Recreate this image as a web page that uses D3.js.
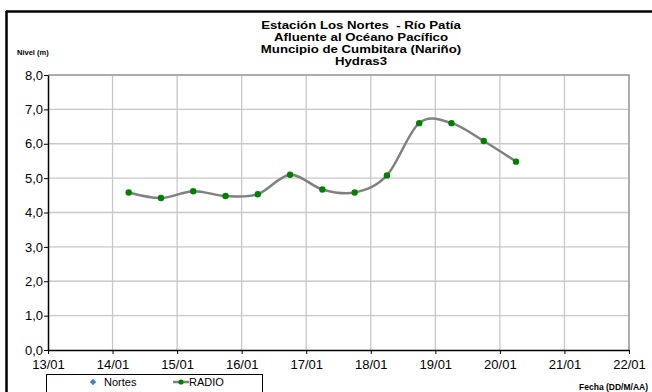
<!DOCTYPE html>
<html>
<head>
<meta charset="utf-8">
<script src="https://cdn.jsdelivr.net/npm/d3@7"></script>
<style>
  html, body { margin: 0; padding: 0; background: #fff; }
  svg { display: block; font-family: "Liberation Sans", Arial, sans-serif; }
</style>
</head>
<body>
<svg id="chart" width="652" height="392"></svg>
<script>
// Level readings (m), every 12 h at 06:00 and 18:00
const times = [
  "2000-01-14T06:00", "2000-01-14T18:00", "2000-01-15T06:00", "2000-01-15T18:00",
  "2000-01-16T06:00", "2000-01-16T18:00", "2000-01-17T06:00", "2000-01-17T18:00",
  "2000-01-18T06:00", "2000-01-18T18:00", "2000-01-19T06:00", "2000-01-19T18:00",
  "2000-01-20T06:00"
];
const radio = [4.58, 4.42, 4.62, 4.48, 4.53, 5.10, 4.67, 4.58, 5.08, 6.60, 6.60, 6.08, 5.48];
const yTicks = [0, 1, 2, 3, 4, 5, 6, 7, 8];
const xTickDays = [13, 14, 15, 16, 17, 18, 19, 20, 21, 22];
const titleLines = [
  "Estación Los Nortes  - Río Patía",
  "Afluente al Océano Pacífico",
  "Muncipio de Cumbitara (Nariño)",
  "Hydras3"
];
const seriesNames = ["Nortes", "RADIO"];

const parse = d3.timeParse("%Y-%m-%dT%H:%M");
const data = times.map((t, i) => ({ t: parse(t), v: radio[i] }));
const tickDates = xTickDays.map(d => new Date(2000, 0, d));

const svg = d3.select("#chart");
const plotL = 48, plotR = 629, plotT = 75, plotB = 350;

const x = d3.scaleTime().domain([tickDates[0], tickDates[tickDates.length - 1]]).range([plotL, plotR]);
const y = d3.scaleLinear().domain([0, 8]).range([plotB, plotT]);

// Frame lines of the whole chart (top and left only)
svg.append("line").attr("x1", 6).attr("x2", 652).attr("y1", 11.5).attr("y2", 11.5)
  .attr("stroke", "#000").attr("stroke-width", 2.5);
svg.append("line").attr("x1", 6.5).attr("x2", 6.5).attr("y1", 11).attr("y2", 392)
  .attr("stroke", "#000").attr("stroke-width", 2.5);

// Gridlines
svg.append("g").selectAll("line").data(yTicks.slice(1)).join("line")
  .attr("x1", plotL).attr("x2", plotR)
  .attr("y1", d => y(d)).attr("y2", d => y(d))
  .attr("stroke", "#c8c8c8").attr("stroke-width", 1.3);
svg.append("g").selectAll("line").data(tickDates.slice(1)).join("line")
  .attr("x1", d => x(d)).attr("x2", d => x(d))
  .attr("y1", plotT).attr("y2", plotB)
  .attr("stroke", "#c8c8c8").attr("stroke-width", 1.3);
// Plot area right/top border
svg.append("path")
  .attr("d", `M${plotL},${plotT}H${plotR}V${plotB}`)
  .attr("fill", "none").attr("stroke", "#a0a0a0").attr("stroke-width", 1.5);

// Axes
const xAxis = d3.axisBottom(x).tickValues(tickDates).tickFormat(d3.timeFormat("%d/%m"))
  .tickSize(4).tickSizeOuter(0);
const gx = svg.append("g").attr("transform", `translate(0,${plotB})`).call(xAxis);
gx.select(".domain").attr("stroke", "#000").attr("stroke-width", 1.5);
gx.selectAll(".tick line").attr("stroke", "#000");
gx.selectAll(".tick text").attr("font-size", 13).attr("fill", "#000").attr("dy", "0.9em")
  .attr("font-family", "Liberation Sans, Arial, sans-serif");

const fmt = d => d3.format(".1f")(d).replace(".", ",");
const yAxis = d3.axisLeft(y).tickValues(yTicks).tickFormat(fmt).tickSize(4).tickSizeOuter(0);
const gy = svg.append("g").attr("transform", `translate(${plotL},0)`).call(yAxis);
gy.select(".domain").attr("stroke", "#000").attr("stroke-width", 1.5);
gy.selectAll(".tick line").attr("stroke", "#000");
gy.selectAll(".tick text").attr("font-size", 13).attr("fill", "#000").attr("x", -5)
  .attr("font-family", "Liberation Sans, Arial, sans-serif");

// Smoothed series line and markers
const line = d3.line().x(d => x(d.t)).y(d => y(d.v)).curve(d3.curveCardinal.tension(0));
svg.append("path").datum(data).attr("d", line)
  .attr("fill", "none").attr("stroke", "#808080").attr("stroke-width", 2.5);
svg.append("g").selectAll("circle").data(data).join("circle")
  .attr("cx", d => x(d.t)).attr("cy", d => y(d.v)).attr("r", 3.2)
  .attr("fill", "#008000");

// Title (slightly widened lettering)
svg.append("g").selectAll("text").data(titleLines).join("text")
  .attr("transform", (d, i) => `translate(361,${29 + i * 12}) scale(1.15,1)`)
  .attr("text-anchor", "middle").attr("font-size", 11.5).attr("font-weight", "bold")
  .style("white-space", "pre")
  .text(d => d);

// Axis titles
svg.append("text").attr("x", 17).attr("y", 55).attr("font-size", 7.5).attr("font-weight", "bold")
  .text("Nivel (m)");
svg.append("text").attr("x", 648).attr("y", 390).attr("text-anchor", "end")
  .attr("font-size", 8.5).attr("font-weight", "bold").text("Fecha (DD/M/AA)");

// Legend
const lg = svg.append("g");
lg.append("rect").attr("x", 46.5).attr("y", 374.5).attr("width", 216).attr("height", 20)
  .attr("fill", "#fff").attr("stroke", "#000").attr("stroke-width", 1);
lg.append("path").attr("d", d3.symbol(d3.symbolDiamond2, 28)())
  .attr("transform", "translate(93,382)").attr("fill", "#4f81bd");
lg.append("text").attr("x", 104).attr("y", 386).attr("font-size", 11).text(seriesNames[0]);
lg.append("line").attr("x1", 173).attr("x2", 189).attr("y1", 382).attr("y2", 382)
  .attr("stroke", "#808080").attr("stroke-width", 2.5);
lg.append("circle").attr("cx", 181).attr("cy", 382).attr("r", 2.6).attr("fill", "#008000");
lg.append("text").attr("x", 189).attr("y", 386).attr("font-size", 11).text(seriesNames[1]);
</script>
</body>
</html>
